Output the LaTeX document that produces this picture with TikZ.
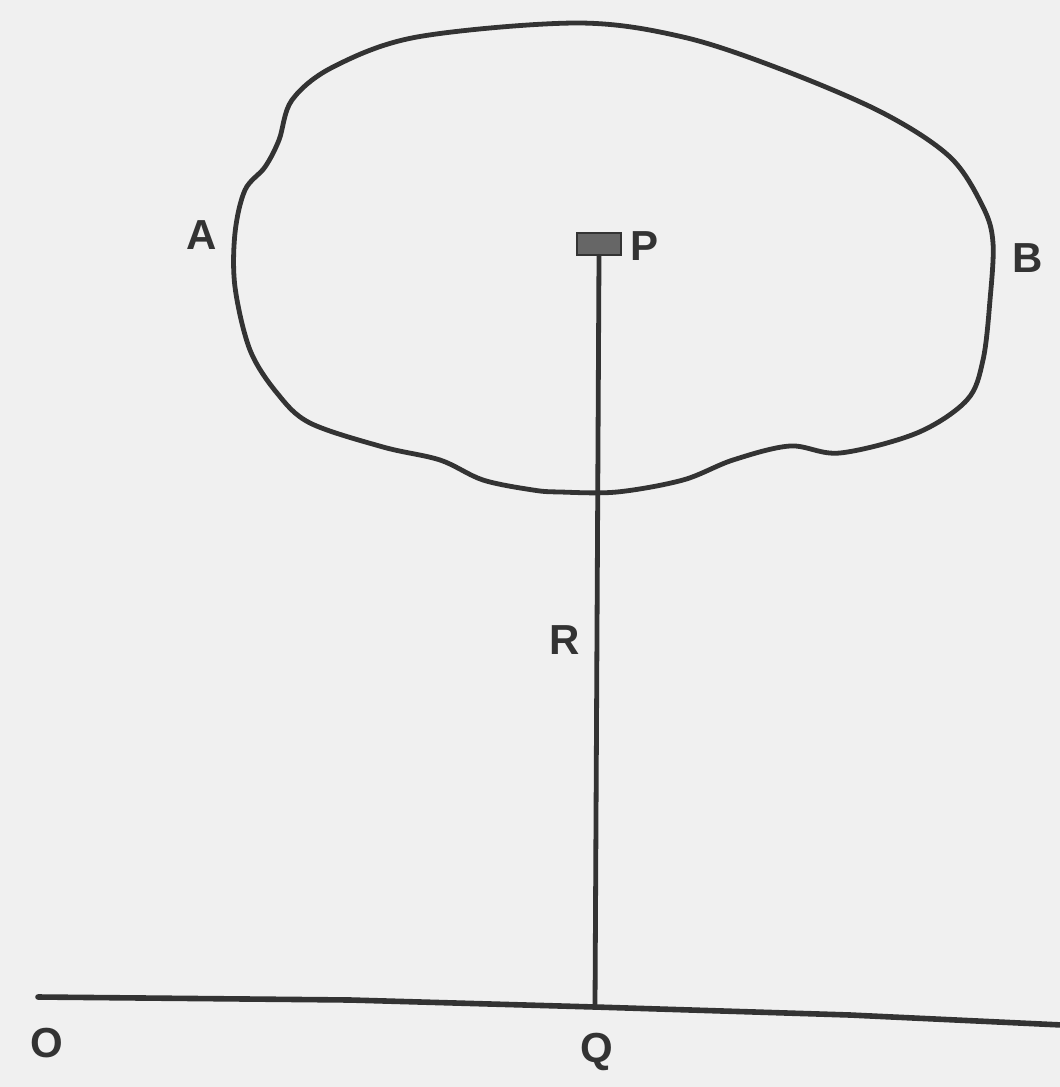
\documentclass[tikz,border=0pt]{standalone}
\usepackage{fontspec}
\setmainfont{Liberation Sans}
\begin{document}
\begin{tikzpicture}[x=0.5pt,y=-0.5pt,
  ink/.style={draw=black!80,line width=2.4pt,line cap=round,line join=round},
  lbl/.style={text=black!80,font=\fontsize{21}{21}\selectfont\bfseries,inner sep=0pt}]
\fill[black!6] (0,0) rectangle (1060,1087);
\useasboundingbox (0,0) rectangle (1060,1087);
% blob
\draw[ink] plot[smooth cycle,tension=0.55] coordinates {
 (577,23) (683,37) (783,70) (883,113) (950,157) (983,207) (993,243)
 (990,300) (983,360) (967,400) (917,433) (840,453)
 (790,446) (733,460) (683,480) (617,492) (560,492) (533,490) (483,480)
 (440,460) (383,447) (310,423) (277,393) (250,350) (235,287) (235,233)
 (245,190) (265,167) (279,140) (292,100) (333,67) (417,37) };
% mass P
\node[fill=black!60,draw=black!80,line width=1.2pt,minimum width=22pt,minimum height=11pt,inner sep=0pt] (Pbox) at (599,244) {};
\node[lbl,anchor=west] (Plbl) at (630,246) {P};
\node[lbl] (A) at (202,235) {A};
\node[lbl] (B) at (1028,258) {B};
% ground
\coordinate (O) at (38,997);
\coordinate (Q) at (595,1007);
\coordinate (E) at (1062,1025);
\draw[ink,line width=2.8pt] (O) -- (350,1000) -- (Q) -- (850,1015) -- (E);
\draw[ink] (Pbox.south) -- (Q);
\node[lbl] (Olbl) at (47,1043) {O};
\node[lbl] (Qlbl) at (597,1052) {Q};
\node[lbl] (R) at (565,640) {R};
\end{tikzpicture}
\end{document}
